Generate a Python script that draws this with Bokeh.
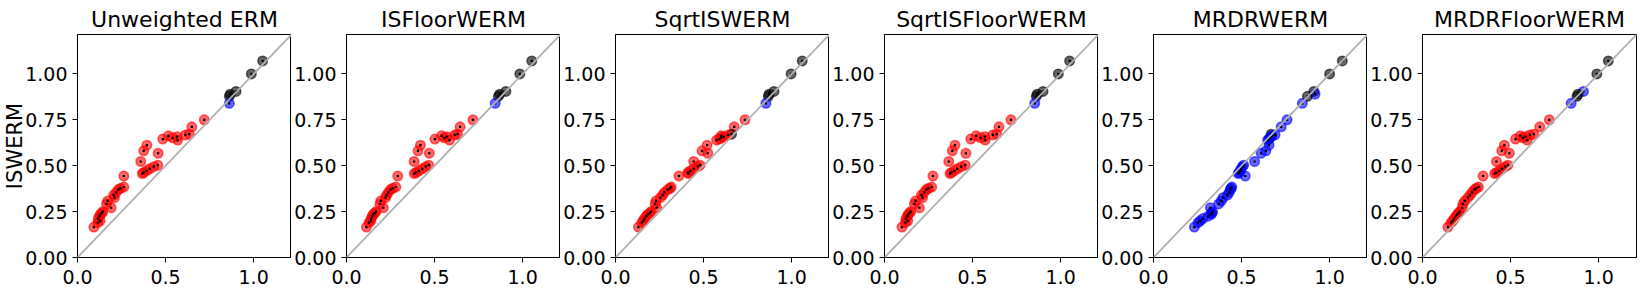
from bokeh.plotting import figure
from bokeh.layouts import row
from bokeh.models import Range1d, FixedTicker, NumeralTickFormatter, Slope
from bokeh.embed import file_html
from bokeh.resources import INLINE

titles = ["Unweighted ERM", "ISFloorWERM", "SqrtISWERM", "SqrtISFloorWERM", "MRDRWERM", "MRDRFloorWERM"]

# y values: ISWERM (shared by all panels)
iswerm = [1.071, 1.000, 0.905, 0.890, 0.878, 0.840, 0.750, 0.712, 0.672, 0.668,
          0.663, 0.658, 0.652, 0.645, 0.640, 0.612, 0.581, 0.568, 0.523, 0.503,
          0.495, 0.483, 0.472, 0.463, 0.457, 0.444, 0.384, 0.377, 0.370, 0.355,
          0.340, 0.326, 0.308, 0.292, 0.271, 0.250, 0.242, 0.235, 0.225, 0.212,
          0.200, 0.190, 0.166]

x_unweighted = [1.051, 0.987, 0.900, 0.867, 0.862, 0.862, 0.720, 0.649, 0.635, 0.612,
                0.516, 0.566, 0.540, 0.484, 0.569, 0.394, 0.376, 0.458, 0.359, 0.456,
                0.433, 0.409, 0.392, 0.375, 0.368, 0.263, 0.263, 0.244, 0.232, 0.220,
                0.205, 0.210, 0.172, 0.165, 0.191, 0.144, 0.138, 0.130, 0.125, 0.118,
                0.128, 0.115, 0.093]
x_isfloor = [1.052, 0.984, 0.905, 0.870, 0.862, 0.844, 0.718, 0.645, 0.630, 0.615,
             0.540, 0.570, 0.555, 0.502, 0.585, 0.420, 0.406, 0.470, 0.384, 0.467,
             0.450, 0.430, 0.410, 0.395, 0.385, 0.291, 0.280, 0.262, 0.250, 0.238,
             0.228, 0.222, 0.195, 0.190, 0.209, 0.168, 0.160, 0.152, 0.146, 0.140,
             0.138, 0.128, 0.113]
x_sqrtis = [1.060, 0.997, 0.900, 0.872, 0.868, 0.854, 0.735, 0.674, 0.659, 0.640,
            0.600, 0.615, 0.600, 0.590, 0.574, 0.520, 0.491, 0.524, 0.444, 0.480,
            0.467, 0.444, 0.425, 0.410, 0.415, 0.360, 0.316, 0.310, 0.297, 0.278,
            0.268, 0.255, 0.230, 0.225, 0.234, 0.202, 0.195, 0.183, 0.175, 0.164,
            0.158, 0.150, 0.130]
x_sqrtisfloor = [1.051, 0.987, 0.900, 0.867, 0.862, 0.853, 0.718, 0.650, 0.637, 0.615,
                 0.520, 0.570, 0.545, 0.490, 0.572, 0.400, 0.385, 0.462, 0.365, 0.458,
                 0.436, 0.413, 0.396, 0.380, 0.372, 0.275, 0.268, 0.250, 0.237, 0.226,
                 0.210, 0.216, 0.177, 0.170, 0.198, 0.149, 0.142, 0.135, 0.130, 0.122,
                 0.132, 0.118, 0.099]
x_mrdr = [1.072, 1.000, 0.911, 0.917, 0.874, 0.845, 0.758, 0.725, 0.668, 0.690,
          0.672, 0.668, 0.662, 0.655, 0.648, 0.656, 0.638, 0.611, 0.574, 0.512,
          0.505, 0.497, 0.492, 0.486, 0.481, 0.521, 0.445, 0.440, 0.436, 0.430,
          0.420, 0.395, 0.385, 0.370, 0.323, 0.335, 0.332, 0.328, 0.310, 0.280,
          0.265, 0.253, 0.232]
x_mrdrfloor = [1.055, 0.990, 0.914, 0.883, 0.877, 0.844, 0.720, 0.666, 0.632, 0.610,
               0.555, 0.585, 0.570, 0.528, 0.595, 0.465, 0.450, 0.493, 0.420, 0.485,
               0.470, 0.452, 0.437, 0.420, 0.410, 0.344, 0.318, 0.305, 0.295, 0.282,
               0.270, 0.258, 0.240, 0.230, 0.225, 0.212, 0.205, 0.198, 0.190, 0.180,
               0.172, 0.162, 0.144]

# R = ISWERM worse (red), B = better (blue), K = tie (black)
status_unweighted = "KKKKKBRRRRRRRRRRRRRRRRRRRRRRRRRRRRRRRRRRRRR"
status_isfloor = "KKKKKBRRRRRRRRRRRRRRRRRRRRRRRRRRRRRRRRRRRRR"
status_sqrtis = "KKKKKBRRKRRRRRRRRRRRRRRRRRRRRRRRRRRRRRRRRRR"
status_sqrtisfloor = "KKKKKBRRRRRRRRRRRRRRRRRRRRRRRRRRRRRRRRRRRRR"
status_mrdr = "KKKBKBBBKBBBBBBBBBBBBBBBBBBBBBBBBBBBBBBBBBB"
status_mrdrfloor = "KKBKKBRRRRRRRRRRRRRRRRRRRRRRRRRRRRRRRRRRRRR"

xs = [x_unweighted, x_isfloor, x_sqrtis, x_sqrtisfloor, x_mrdr, x_mrdrfloor]
statuses = [status_unweighted, status_isfloor, status_sqrtis, status_sqrtisfloor,
            status_mrdr, status_mrdrfloor]
palette = {"R": "#ff0000", "B": "#0000ff", "K": "#000000"}

FONT = "DejaVu Sans"
figs = []
n = len(titles)
for i in range(n):
    left = 70 if i == 0 else 53
    right = 8 if i == n - 1 else 0
    p = figure(frame_width=214, frame_height=223,
               x_range=Range1d(0, 1.215), y_range=Range1d(0, 1.215),
               min_border_left=left, min_border_right=right,
               min_border_top=34, min_border_bottom=30,
               output_backend="svg", toolbar_location=None,
               title=titles[i])
    p.title.align = "center"
    p.title.text_font = FONT
    p.title.text_font_size = "22px"
    p.title.text_font_style = "normal"
    p.title.text_color = "black"
    p.title.standoff = 5
    p.title.offset = 0
    p.xgrid.visible = False
    p.ygrid.visible = False
    p.outline_line_color = "black"
    p.outline_line_width = 1
    p.outline_line_alpha = 1
    p.xaxis.ticker = FixedTicker(ticks=[0, 0.5, 1.0])
    p.yaxis.ticker = FixedTicker(ticks=[0, 0.25, 0.5, 0.75, 1.0])
    p.xaxis.formatter = NumeralTickFormatter(format="0.0")
    p.yaxis.formatter = NumeralTickFormatter(format="0.00")
    for ax in (p.xaxis, p.yaxis):
        ax.major_tick_out = 5
        ax.major_tick_in = 0
        ax.minor_tick_out = 0
        ax.minor_tick_in = 0
        ax.axis_line_color = "black"
        ax.major_tick_line_color = "black"
        ax.major_label_text_font = FONT
        ax.major_label_text_font_size = "19px"
        ax.major_label_text_color = "black"
    p.xaxis.major_label_standoff = 7
    p.yaxis.major_label_standoff = 5
    if i == 0:
        p.yaxis.axis_label = "ISWERM"
        p.yaxis.axis_label_text_font = FONT
        p.yaxis.axis_label_text_font_size = "21px"
        p.yaxis.axis_label_text_font_style = "normal"
        p.yaxis.axis_label_text_color = "black"
        p.yaxis.axis_label_standoff = -5

    p.add_layout(Slope(gradient=1, y_intercept=0, line_color="#b0b0b0", line_width=1.8))

    cols = [palette[s] for s in statuses[i]]
    p.scatter(xs[i], iswerm, size=9.5, fill_color=cols, fill_alpha=0.6,
              line_color=cols, line_alpha=0.6, line_width=1.5)
    p.scatter(xs[i], iswerm, size=2.2, marker="square", fill_color="black",
              line_color=None)
    figs.append(p)

layout = row(*figs)
open("out.html", "w").write(file_html(layout, INLINE))
